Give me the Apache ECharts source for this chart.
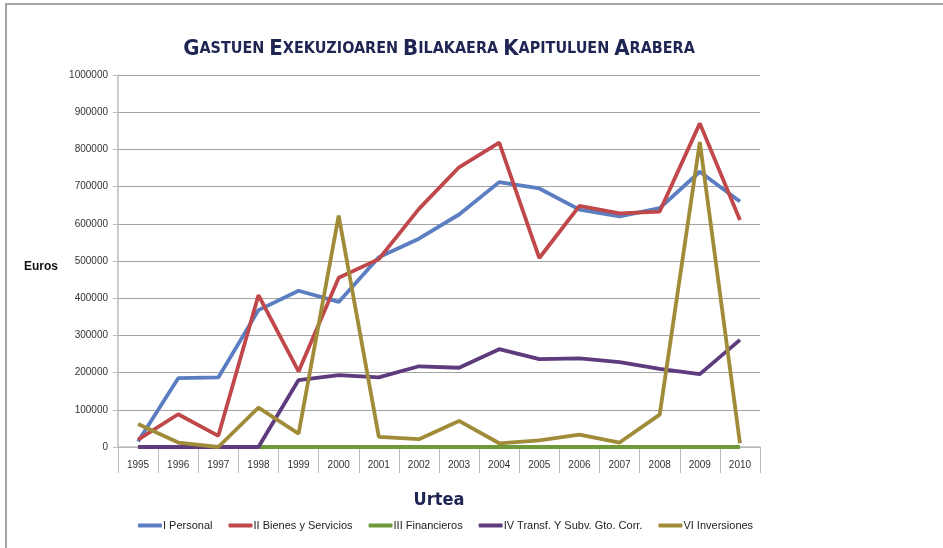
<!DOCTYPE html>
<html>
<head>
<meta charset="utf-8">
<script src="https://cdn.jsdelivr.net/npm/echarts@6/dist/echarts.min.js"></script>
<style>
  html, body { margin: 0; padding: 0; background: #fff; }
  #main { width: 943px; height: 548px; }
</style>
</head>
<body>
<div id="main"></div>
<script>
'use strict';
// urteak
var years = ['1995', '1996', '1997', '1998', '1999', '2000', '2001', '2002',
  '2003', '2004', '2005', '2006', '2007', '2008', '2009', '2010'];

var personal = [15000, 185000, 187000, 368000, 420000, 390000, 510000, 560000,
  625000, 712000, 695000, 638000, 620000, 642000, 740000, 660000];
var bienes = [20000, 88000, 30000, 408000, 203000, 455000, 505000, 640000,
  752000, 818000, 508000, 648000, 628000, 633000, 870000, 610000];
var financieros = [0, 0, 0, 0, 0, 0, 0, 0, 0, 0, 0, 0, 0, 0, 0, 0];
var transf = [0, 0, 0, 0, 180000, 193000, 187000, 217000, 213000, 263000,
  236000, 238000, 228000, 210000, 196000, 288000];
var inversiones = [62000, 12000, 0, 106000, 36000, 622000, 27000, 21000,
  70000, 10000, 18000, 33000, 12000, 87000, 820000, 10000];

var seriesNames = ['I Personal', 'II Bienes y Servicios', 'III Financieros',
  'IV Transf. Y Subv. Gto. Corr.', 'VI Inversiones'];
var seriesColors = ['#5b7dc1', '#c0474a', '#6f9a3a', '#5e3b7d', '#a08c38'];
var seriesData = [personal, bienes, financieros, transf, inversiones];

var chart = echarts.init(document.getElementById('main'));

// small caps title
var titleWords = ['Gastuen', 'Exekuzioaren', 'Bilakaera', 'Kapituluen', 'Arabera'];
var titleText = titleWords.map(function(w) {
  return '{b|' + w.charAt(0).toUpperCase() + '}{s|' + w.slice(1).toUpperCase() + '}';
}).join('{s| }');

var series = seriesNames.map(function(name, i) {
  return {
    name: name,
    type: 'line',
    data: seriesData[i],
    symbol: 'none',
    lineStyle: { width: 3.8, color: seriesColors[i] },
    itemStyle: { color: seriesColors[i] },
    z: 2 + i
  };
});

var option = {
  animation: false,
  backgroundColor: '#fff',
  graphic: [{
    type: 'polyline',
    shape: { points: [[6, 548], [6, 4], [943, 4]] },
    style: { stroke: '#a6a6a6', lineWidth: 2, fill: null }
  }],
  title: {
    text: titleText,
    left: 434,
    textAlign: 'center',
    top: 33,
    textStyle: {
      rich: {
        b: { fontFamily: 'DejaVu Sans Condensed', fontSize: 22, fontWeight: 'bold', color: '#1f2552' },
        s: { fontFamily: 'DejaVu Sans Condensed', fontSize: 16, fontWeight: 'bold', color: '#1f2552' }
      }
    }
  },
  legend: {
    bottom: 12,
    left: 133,
    itemWidth: 24,
    itemHeight: 4,
    itemGap: 16,
    icon: 'roundRect',
    textStyle: { fontFamily: 'Liberation Sans', fontSize: 11, color: '#222', padding: [0, 0, 0, -4] },
    data: seriesNames
  },
  grid: { left: 118, right: 183, top: 75, bottom: 101, containLabel: false },
  xAxis: {
    type: 'category',
    data: years,
    boundaryGap: true,
    name: 'Urtea',
    nameLocation: 'middle',
    nameGap: 44,
    nameTextStyle: { fontFamily: 'DejaVu Sans Condensed', fontSize: 18, fontWeight: 'bold', color: '#1f2552' },
    axisLine: { lineStyle: { color: '#bdbdbd', width: 1.5 } },
    axisTick: { show: true, length: 26, lineStyle: { color: '#bdbdbd' } },
    axisLabel: { fontFamily: 'Liberation Sans', fontSize: 10, color: '#333', margin: 13 }
  },
  yAxis: {
    type: 'value',
    min: 0,
    max: 1000000,
    interval: 100000,
    name: 'Euros',
    nameLocation: 'middle',
    nameRotate: 0,
    nameGap: 60,
    nameTextStyle: { fontFamily: 'Liberation Sans', fontSize: 12, fontWeight: 'bold', color: '#111', verticalAlign: 'top' },
    axisLine: { show: true, lineStyle: { color: '#bdbdbd', width: 1.5 } },
    axisTick: { show: true, length: 5, lineStyle: { color: '#bdbdbd' } },
    axisLabel: {
      fontFamily: 'Liberation Sans', fontSize: 10, color: '#333', margin: 10,
      formatter: function(v) { return String(v); }
    },
    splitLine: { lineStyle: { color: '#a3a3a3', width: 1 } }
  },
  series: series
};

chart.setOption(option);
</script>
</body>
</html>
